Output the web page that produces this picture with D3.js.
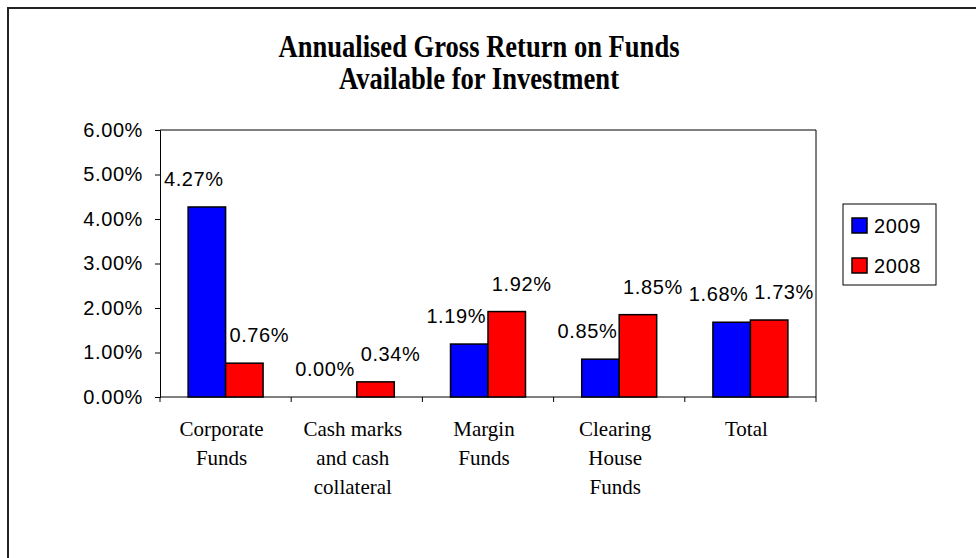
<!DOCTYPE html>
<html>
<head>
<meta charset="utf-8">
<script src="https://cdn.jsdelivr.net/npm/d3@7"></script>
<style>
  body { margin: 0; background: #fff; }
  svg { display: block; }
</style>
</head>
<body>
<div id="chart"></div>
<script>
// chart values
const categories = ["Corporate Funds", "Cash marks and cash collateral", "Margin Funds", "Clearing House Funds", "Total"]
const years = ["2009", "2008"]
const values2009 = [0.0427, 0.0000, 0.0119, 0.0085, 0.0168]
const values2008 = [0.0076, 0.0034, 0.0192, 0.0185, 0.0173]
const yTicks = [0, 0.01, 0.02, 0.03, 0.04, 0.05, 0.06]
const titleLines = ["Annualised Gross Return on Funds", "Available for Investment"]

const width = 976
const height = 558
const plot = { left: 160, right: 816, top: 130, bottom: 397 }
const colors = { "2009": "#0000ff", "2008": "#ff0000" }
const sans = "'Liberation Sans', Arial, sans-serif"
const serif = "'Liberation Serif', 'Times New Roman', serif"
// the original's Arial is rendered a bit wider than its height
const sansSize = 20
const sansSpacing = "0.6px"

const svg = d3.select("#chart")
  .append("svg")
    .attr("width", width)
    .attr("height", height)

// outer chart frame (runs off the right and bottom of the picture)
svg.append("rect")
  .attr("x", 8).attr("y", 8)
  .attr("width", 1000).attr("height", 600)
  .attr("fill", "none")
  .attr("stroke", "#222")
  .attr("stroke-width", 2)

// title, squeezed a little like the original
svg.append("g")
  .selectAll("text")
  .data(titleLines)
  .join("text")
    .attr("x", 479)
    .attr("y", (d, i) => 57 + i * 32)
    .attr("text-anchor", "middle")
    .attr("font-family", serif)
    .attr("font-weight", "bold")
    .attr("font-size", 31)
    .attr("textLength", (d, i) => i === 0 ? 401 : 280)
    .attr("lengthAdjust", "spacingAndGlyphs")
    .text(d => d)

// scales
const x = d3.scaleBand()
  .domain(categories)
  .range([plot.left, plot.right])
  .padding(0)

const xInner = d3.scaleBand()
  .domain(years)
  .range([0, x.bandwidth()])
  .paddingInner(0)
  .paddingOuter(0.75)

const y = d3.scaleLinear()
  .domain([0, 0.06])
  .range([plot.bottom, plot.top])

// plot area frame: top and right edges
svg.append("path")
  .attr("d", `M${plot.left},${plot.top}H${plot.right}V${plot.bottom}`)
  .attr("fill", "none")
  .attr("stroke", "#000")
  .attr("stroke-width", 1)

// y axis
const yAxis = svg.append("g")
  .attr("transform", `translate(${plot.left},0)`)
  .call(d3.axisLeft(y).tickValues(yTicks).tickFormat(d3.format(".2%")).tickSize(5).tickPadding(12))
yAxis.select(".domain").attr("stroke", "#000")
yAxis.selectAll(".tick line").attr("stroke", "#000")
yAxis.selectAll("text")
  .attr("font-family", sans)
  .attr("font-size", sansSize)
  .attr("letter-spacing", sansSpacing)
  .attr("fill", "#000")

// x axis: ticks sit on the category boundaries
const xAxis = svg.append("g")
  .attr("transform", `translate(0,${plot.bottom})`)
xAxis.append("line")
  .attr("x1", plot.left).attr("x2", plot.right)
  .attr("stroke", "#000")
xAxis.selectAll(".bound")
  .data(categories.concat(["end"]))
  .join("line")
    .attr("class", "bound")
    .attr("x1", (d, i) => i < categories.length ? x(d) : x(categories[i - 1]) + x.bandwidth())
    .attr("x2", (d, i) => i < categories.length ? x(d) : x(categories[i - 1]) + x.bandwidth())
    .attr("y1", 0).attr("y2", 5)
    .attr("stroke", "#000")

// category labels, wrapped like Excel does
const catLabels = xAxis.selectAll(".cat")
  .data(categories)
  .join("text")
    .attr("class", "cat")
    .attr("x", d => x(d) + x.bandwidth() / 2 - 4)
    .attr("y", 39)
    .attr("text-anchor", "middle")
    .attr("font-family", serif)
    .attr("font-size", 21)
    .attr("fill", "#000")

catLabels.each(function(d) {
  const text = d3.select(this)
  const words = d.split(" ")
  const cx = text.attr("x")
  let line = []
  let tspan = text.append("tspan").attr("x", cx).attr("dy", 0)
  words.forEach(w => {
    line.push(w)
    tspan.text(line.join(" "))
    if (tspan.node().getComputedTextLength() > 105 && line.length > 1) {
      line.pop()
      tspan.text(line.join(" "))
      line = [w]
      tspan = text.append("tspan").attr("x", cx).attr("dy", 29).text(w)
    }
  })
})

// bars
const rows = categories.map((c, i) => ({
  category: c,
  items: [
    { year: "2009", value: values2009[i] },
    { year: "2008", value: values2008[i] }
  ]
}))

const groups = svg.append("g")
  .selectAll("g")
  .data(rows)
  .join("g")
    .attr("transform", d => `translate(${x(d.category)},0)`)

groups.selectAll("rect")
  .data(d => d.items.filter(e => e.value > 0))
  .join("rect")
    .attr("x", d => xInner(d.year))
    .attr("y", d => y(d.value))
    .attr("width", xInner.bandwidth())
    .attr("height", d => y(0) - y(d.value))
    .attr("fill", d => colors[d.year])
    .attr("stroke", "#000")
    .attr("stroke-width", 1.5)

// value labels above the bars
groups.selectAll("text")
  .data(d => d.items)
  .join("text")
    .attr("x", d => xInner(d.year) + xInner.bandwidth() / 2 + (d.year === "2009" ? -13 : 15))
    .attr("y", d => y(d.value) - 21)
    .attr("text-anchor", "middle")
    .attr("font-family", sans)
    .attr("font-size", sansSize)
    .attr("letter-spacing", sansSpacing)
    .attr("fill", "#000")
    .text(d => d3.format(".2%")(d.value))

// legend
const legend = svg.append("g")
  .attr("transform", "translate(843,204)")
legend.append("rect")
  .attr("width", 93).attr("height", 81)
  .attr("fill", "#fff")
  .attr("stroke", "#000")
  .attr("stroke-width", 1)
const item = legend.selectAll(".item")
  .data(years)
  .join("g")
    .attr("class", "item")
    .attr("transform", (d, i) => `translate(9,${14 + i * 40})`)
item.append("rect")
  .attr("width", 15).attr("height", 15)
  .attr("fill", d => colors[d])
  .attr("stroke", "#000")
  .attr("stroke-width", 1.5)
item.append("text")
  .attr("x", 22)
  .attr("y", 15)
  .attr("font-family", sans)
  .attr("font-size", sansSize)
  .attr("letter-spacing", sansSpacing)
  .attr("fill", "#000")
  .text(d => d)
</script>
</body>
</html>
